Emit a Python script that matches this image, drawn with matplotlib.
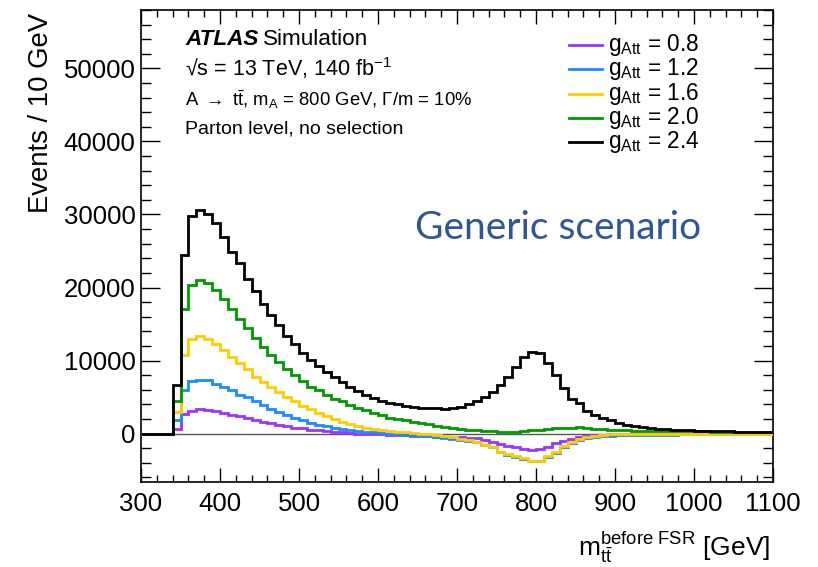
import numpy as np
import matplotlib
matplotlib.use("Agg")
import matplotlib.pyplot as plt

plt.rcParams["font.family"] = ["Liberation Sans", "DejaVu Sans"]
plt.rcParams["mathtext.fontset"] = "custom"
plt.rcParams["mathtext.rm"] = "Liberation Sans"
plt.rcParams["mathtext.it"] = "Liberation Sans:italic"
plt.rcParams["mathtext.bf"] = "Liberation Sans:bold"

# m_tt bins, 10 GeV wide, 300-1100 GeV
edges = np.arange(300, 1101, 10)

# events per bin (thousands)
g08 = [0, 0, 0, 0,
       0.65, 2.7, 3.15, 3.3, 3.25, 3.05, 2.85, 2.6, 2.4, 2.15,
       1.9, 1.65, 1.4, 1.2, 1.0, 0.8, 0.7, 0.55, 0.45, 0.35,
       0.25, 0.15, 0.05, 0.0, -0.02, -0.05, -0.1, -0.15, -0.2, -0.25,
       -0.3, -0.35, -0.38, -0.4, -0.42, -0.45, -0.5, -0.55, -0.65, -0.85,
       -1.1, -1.4, -1.7, -1.9, -2.1, -2.2, -2.15, -1.8, -1.35, -1.0,
       -0.75, -0.45, -0.3, -0.2, -0.15, -0.1, -0.1, -0.08, -0.08, -0.07,
       -0.07, -0.06, -0.06, -0.06, -0.05, -0.05, -0.05, -0.05, -0.05, -0.05,
       -0.05, -0.05, -0.05, -0.05, -0.05, -0.05]
g12 = [0, 0, 0, 0,
       1.8, 5.9, 7.2, 7.4, 7.3, 6.8, 6.35, 5.9, 5.35, 5.0,
       4.4, 3.85, 3.35, 2.9, 2.5, 2.1, 1.8, 1.5, 1.2, 1.0,
       0.8, 0.6, 0.5, 0.35, 0.25, 0.15, 0.05, -0.05, -0.1, -0.15,
       -0.2, -0.28, -0.35, -0.45, -0.6, -0.7, -0.85, -1.0, -1.2, -1.55,
       -1.9, -2.55, -2.9, -3.2, -3.5, -3.8, -3.8, -3.2, -2.6, -1.8,
       -1.3, -0.9, -0.6, -0.45, -0.35, -0.3, -0.25, -0.22, -0.2, -0.18,
       -0.16, -0.15, -0.14, -0.13, -0.12, -0.11, -0.1, -0.1, -0.1, -0.1,
       -0.1, -0.1, -0.1, -0.1, -0.1, -0.1]
g16 = [0, 0, 0, 0,
       2.9, 10.7, 12.9, 13.3, 13.0, 12.2, 11.4, 10.5, 9.6, 8.9,
       7.8, 7.0, 6.35, 5.7, 5.0, 4.4, 3.8, 3.3, 2.8, 2.4,
       2.0, 1.6, 1.3, 1.0, 0.8, 0.6, 0.45, 0.35, 0.25, 0.15,
       0.08, 0.0, -0.1, -0.15, -0.3, -0.45, -0.7, -0.9, -1.1, -1.5,
       -1.8, -2.5, -2.8, -3.1, -3.4, -3.7, -3.7, -3.1, -2.5, -1.7,
       -1.2, -0.8, -0.45, -0.3, -0.15, -0.1, -0.05, -0.03, -0.03, -0.02,
       -0.02, -0.02, -0.02, -0.02, -0.02, -0.02, -0.02, -0.02, -0.02, -0.02,
       -0.02, -0.02, -0.02, -0.02, -0.02, -0.02]
g20 = [0, 0, 0, 0,
       4.5, 17.0, 20.4, 21.0, 20.6, 19.6, 18.4, 17.0, 15.7, 14.4,
       13.1, 11.8, 10.7, 9.8, 8.9, 8.0, 7.2, 6.4, 5.9, 5.3,
       4.8, 4.4, 3.9, 3.5, 3.2, 2.8, 2.5, 2.2, 2.0, 1.8,
       1.6, 1.45, 1.3, 1.1, 0.9, 0.8, 0.65, 0.55, 0.45, 0.35,
       0.3, 0.2, 0.2, 0.25, 0.35, 0.45, 0.55, 0.65, 0.7, 0.8,
       0.7, 0.85, 0.75, 0.65, 0.6, 0.55, 0.5, 0.45, 0.42, 0.4,
       0.38, 0.36, 0.34, 0.33, 0.32, 0.31, 0.3, 0.29, 0.28, 0.27,
       0.26, 0.25, 0.24, 0.23, 0.22, 0.21]
g24 = [0, 0, 0, 0,
       6.6, 24.5, 29.8, 30.6, 30.1, 28.8, 26.9, 24.9, 23.3, 21.2,
       19.5, 17.8, 16.3, 14.8, 13.4, 12.2, 11.1, 10.1, 9.2, 8.4,
       7.7, 7.0, 6.35, 5.8, 5.3, 4.9, 4.5, 4.2, 4.0, 3.8,
       3.6, 3.55, 3.5, 3.45, 3.4, 3.5, 3.7, 4.1, 4.4, 5.0,
       5.7, 6.7, 7.7, 9.1, 10.5, 11.2, 11.1, 9.7, 8.0, 6.3,
       4.8, 4.2, 3.1, 2.5, 2.2, 1.8, 1.5, 1.2, 1.0, 0.85,
       0.75, 0.65, 0.58, 0.52, 0.47, 0.43, 0.4, 0.37, 0.34, 0.32,
       0.3, 0.28, 0.26, 0.25, 0.23, 0.22]

series = [g08, g12, g16, g20, g24]
labels = ["0.8", "1.2", "1.6", "2.0", "2.4"]
colors = ["#9933ff", "#1a8cff", "#ffcc00", "#009900", "#000000"]

fig = plt.figure(figsize=(8.18, 5.67), dpi=100)
W, H = 818.0, 567.0
ax = fig.add_axes([141 / W, 1 - 482 / H, 632 / W, 472 / H])

ax.axhline(0, color="#555555", lw=1.0, zorder=1)
for vals, col in zip(series, colors):
    ax.stairs(np.array(vals) * 1000, edges, color=col, lw=2.0,
              baseline=None, zorder=3)

ax.set_xlim(300, 1100)
ax.set_ylim(-6630, 58000)
ax.set_xticks(np.arange(300, 1101, 100))
ax.set_xticks(np.arange(300, 1101, 20), minor=True)
ax.set_yticks(np.arange(0, 50001, 10000))
ax.set_yticks(np.arange(-6000, 58001, 2000), minor=True)
ax.tick_params(which="both", direction="in", top=True, right=True,
               labelsize=18.5, width=1.0)
ax.tick_params(axis="x", which="major", length=10, pad=7)
ax.tick_params(axis="x", which="minor", length=5)
ax.tick_params(axis="y", which="major", length=14, pad=4)
ax.tick_params(axis="y", which="minor", length=7)
for sp in ax.spines.values():
    sp.set_linewidth(1.2)

fig.text(41 / W, 1 - 13 / H, "Events / 10 GeV", rotation=90,
         ha="center", va="top", fontsize=19.8)
fig.text(770 / W, 1 - 556 / H,
         r"m$_{\mathrm{t\bar{t}}}^{\mathrm{before\ FSR}}$ [GeV]",
         ha="right", va="baseline", fontsize=19)

fig.text(185 / W, 1 - 45 / H, "ATLAS", fontsize=16.2, fontweight="bold",
         fontstyle="italic", va="baseline")
fig.text(263 / W, 1 - 45 / H, "Simulation", fontsize=16.2, va="baseline")
fig.text(185 / W, 1 - 76 / H, "√s = 13 TeV, 140 fb$^{-1}$",
         fontsize=15.5, va="baseline")
fig.text(185 / W, 1 - 106 / H,
         r"A $\rightarrow$ $\mathrm{t\bar{t}}$, m$_{\mathrm{A}}$ = 800 GeV, "
         r"Γ/m = 10%",
         fontsize=13.3, va="baseline")
fig.text(185 / W, 1 - 134 / H, "Parton level, no selection",
         fontsize=14, va="baseline")

fig.text(558 / W, 1 - 228 / H, "Generic scenario", color="#2f5597",
         fontsize=28, family=["Lato", "DejaVu Sans"], ha="center",
         va="center")

for i, (lab, col) in enumerate(zip(labels, colors)):
    y = 1 - (45 + 24.3 * i) / H
    fig.add_artist(plt.Line2D([569 / W, 602 / W], [y, y], color=col,
                              lw=2.0, transform=fig.transFigure))
    fig.text(608 / W, y, r"g$_{\mathrm{Att}}$ = " + lab, fontsize=16.3,
             va="center")

fig.savefig("out.png", dpi=100)
